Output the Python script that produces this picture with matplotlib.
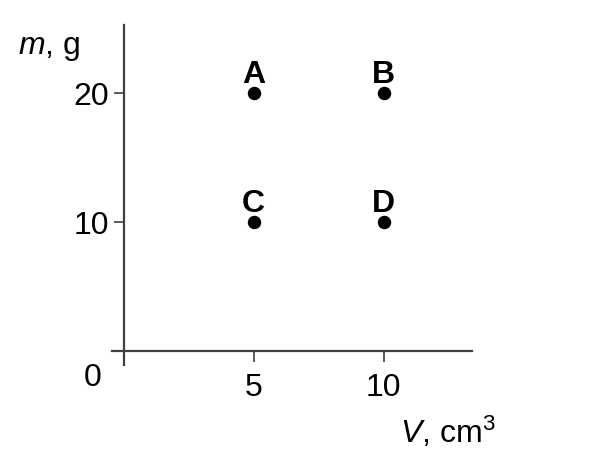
import matplotlib.pyplot as plt

plt.rcParams['font.family'] = ['Liberation Sans', 'DejaVu Sans']
plt.rcParams['mathtext.fontset'] = 'custom'
plt.rcParams['mathtext.rm'] = 'Liberation Sans'
plt.rcParams['mathtext.it'] = 'Liberation Sans:italic'

# data
labels = ['A', 'B', 'C', 'D']
volume = [5, 10, 5, 10]
mass = [20, 20, 10, 10]
x_ticks = [5, 10]
y_ticks = [10, 20]

axis_color = '#404040'
fs = 23

fig = plt.figure(figsize=(5.92, 4.69), dpi=100)
ax = fig.add_axes([0.189, 0.2217, 0.608, 0.725])

ax.set_xlim(-0.46, 13.4)
ax.set_ylim(-1.08, 25.3)

for side in ['top', 'right']:
    ax.spines[side].set_visible(False)
ax.spines['left'].set_position(('data', 0))
ax.spines['bottom'].set_position(('data', 0))
for side in ['left', 'bottom']:
    ax.spines[side].set_color(axis_color)
    ax.spines[side].set_linewidth(1.6)

ax.set_xticks(x_ticks)
ax.set_yticks(y_ticks)
ax.tick_params(axis='x', direction='out', length=8, width=1.2, color=axis_color,
               pad=7.5, labelsize=fs)
ax.tick_params(axis='y', direction='out', length=7.5, width=1.2, color=axis_color,
               pad=3, labelsize=fs)

ax.scatter(volume, mass, s=75, color='black', zorder=3)
for lab, xv, yv in zip(labels, volume, mass):
    ax.annotate(lab, (xv, yv), xytext=(0, 7.5), textcoords='offset points',
                ha='center', va='baseline', fontsize=fs, fontweight='bold')

ax.text(-1.2, -0.9, '0', ha='center', va='top', fontsize=fs)

fig.text(0.03, 0.885, r'$m$, g', fontsize=fs, ha='left', va='baseline')
fig.text(0.675, 0.055, r'$V$, cm$^3$', fontsize=fs, ha='left', va='baseline')

fig.savefig('out.png', dpi=100)
